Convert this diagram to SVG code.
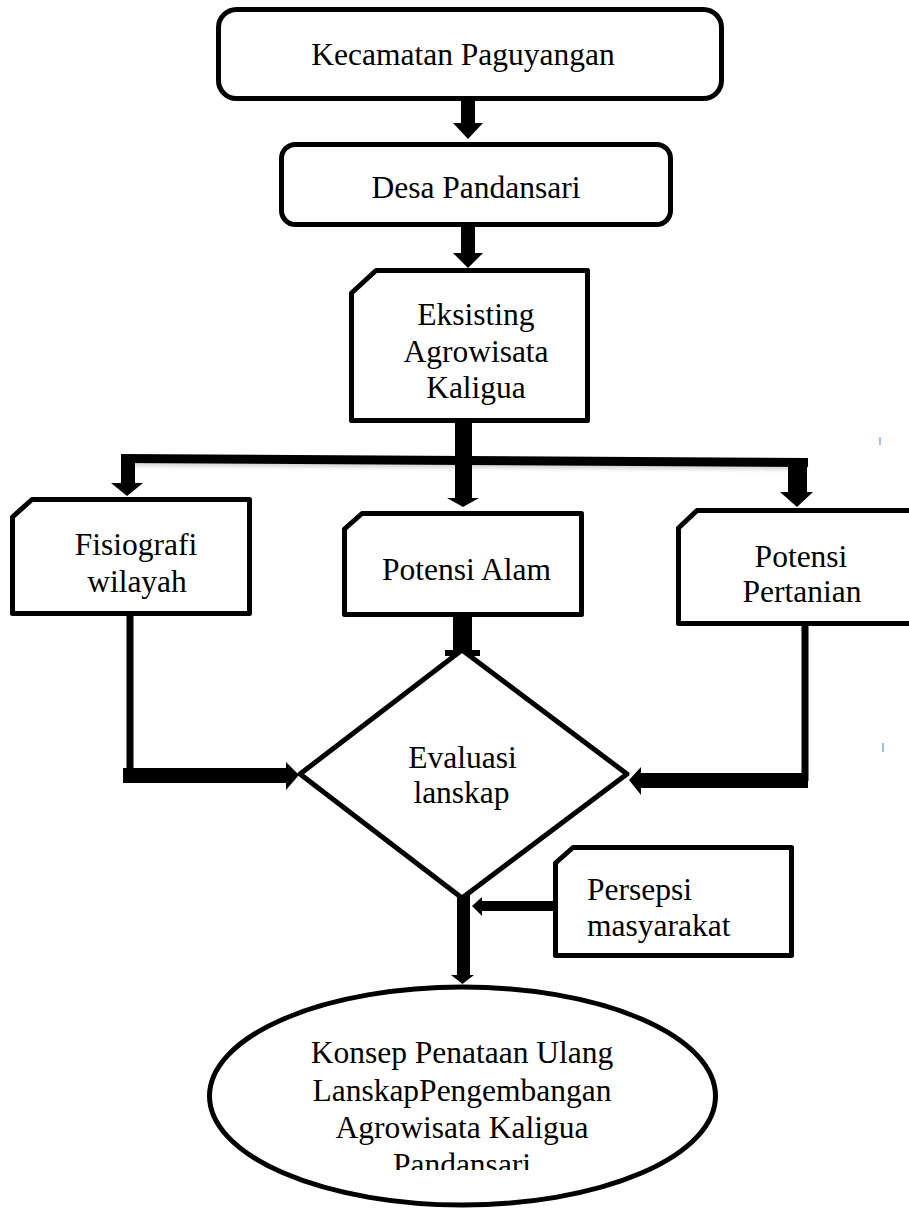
<svg xmlns="http://www.w3.org/2000/svg" width="909" height="1214" viewBox="0 0 909 1214">
  <defs>
    <style>
      .box { fill: #ffffff; stroke: #000000; stroke-width: 5; stroke-linejoin: round; }
      .t { font-family: "Liberation Serif", "Times New Roman", serif; font-size: 31.5px; fill: #000000; }
      .c { text-anchor: middle; }
      .blk { fill: #000000; stroke: none; }
      .thin { stroke: #000000; stroke-width: 7; fill: none; }
      .tick { stroke: #7fa6dc; stroke-width: 1.5; }
    </style>
    <filter id="blur" x="-5%" y="-200%" width="110%" height="500%">
      <feGaussianBlur stdDeviation="2"/>
    </filter>
    <clipPath id="ellClip">
      <rect x="0" y="0" width="909" height="1170"/>
    </clipPath>
  </defs>
  <rect x="0" y="0" width="909" height="1214" fill="#ffffff"/>

  <g id="connectors">
    <!-- Kecamatan -> Desa -->
    <rect class="blk" x="461" y="100" width="14" height="24"/>
    <polygon class="blk" points="453,123 483,123 468,139"/>
    <!-- Desa -> Eksisting -->
    <rect class="blk" x="461" y="225" width="14" height="29"/>
    <polygon class="blk" points="453,253 483,253 468,268"/>
    <!-- Eksisting -> branch -->
    <line x1="125" y1="463" x2="806" y2="467" stroke="#9a9a9a" stroke-width="5" opacity="0.5" filter="url(#blur)"/>
    <polygon class="blk" points="121,454 808,458 808,467 121,463"/>
    <rect class="blk" x="455" y="421" width="17" height="78"/>
    <polygon class="blk" points="447,498 479,498 463,507"/>
    <!-- branch -> Fisiografi -->
    <rect class="blk" x="121" y="456" width="14" height="28"/>
    <polygon class="blk" points="111,483 143,483 127,496"/>
    <!-- branch -> Potensi Pertanian -->
    <rect class="blk" x="788" y="460" width="19" height="33"/>
    <polygon class="blk" points="780,492 813,492 797,507"/>
    <!-- Fisiografi -> Evaluasi -->
    <line class="thin" x1="130" y1="615" x2="130" y2="776"/>
    <rect class="blk" x="123" y="768" width="166" height="15"/>
    <polygon class="blk" points="286,762 299,775 286,790"/>
    <!-- Potensi Pertanian -> Evaluasi -->
    <line class="thin" x1="805" y1="622" x2="805" y2="781"/>
    <rect class="blk" x="640" y="773" width="168" height="15"/>
    <polygon class="blk" points="641,767 629,780 641,795"/>
    <!-- Potensi Alam -> Evaluasi -->
    <rect class="blk" x="453" y="615" width="19" height="38"/>
    <rect class="blk" x="445" y="650" width="35" height="6"/>
    <!-- Persepsi -> junction -->
    <rect class="blk" x="481" y="901" width="74" height="10"/>
    <polygon class="blk" points="482,897 482,916 472,906"/>
    <!-- Evaluasi -> Konsep -->
    <rect class="blk" x="457" y="890" width="13" height="86"/>
    <polygon class="blk" points="451,975 474,975 462.5,984"/>
  </g>

  <g id="kecamatan">
    <rect class="box" x="218.5" y="9.5" width="503" height="89" rx="18" ry="18"/>
    <text class="t c" x="463" y="65">Kecamatan Paguyangan</text>
  </g>

  <g id="desa">
    <rect class="box" x="281.5" y="144.5" width="389" height="80" rx="14" ry="14"/>
    <text class="t c" x="476" y="198">Desa Pandansari</text>
  </g>

  <g id="eksisting">
    <path class="box" d="M351.5,293 L376,270.5 L587.5,270.5 L587.5,420.5 L351.5,420.5 Z"/>
    <text class="t c" x="476" y="325">Eksisting</text>
    <text class="t c" x="476" y="362">Agrowisata</text>
    <text class="t c" x="476" y="398">Kaligua</text>
  </g>

  <g id="fisiografi">
    <path class="box" d="M12.5,517 L32,499.5 L249.5,499.5 L249.5,613.5 L12.5,613.5 Z"/>
    <text class="t c" x="136" y="555">Fisiografi</text>
    <text class="t c" x="137" y="592">wilayah</text>
  </g>

  <g id="potensi-alam">
    <path class="box" d="M344.5,529 L362,513.5 L581.5,513.5 L581.5,614.5 L344.5,614.5 Z"/>
    <text class="t c" x="466.5" y="580">Potensi Alam</text>
  </g>

  <g id="potensi-pertanian">
    <path class="box" d="M678.5,528 L697,510.5 L915,510.5 L915,623.5 L678.5,623.5 Z"/>
    <text class="t c" x="801" y="567">Potensi</text>
    <text class="t c" x="802" y="602">Pertanian</text>
  </g>

  <g id="evaluasi">
    <polygon class="box" points="462,650 627,774 462,898 300,774" stroke-linejoin="miter"/>
    <text class="t c" x="462.5" y="768">Evaluasi</text>
    <text class="t c" x="461.5" y="803">lanskap</text>
  </g>

  <g id="persepsi">
    <path class="box" d="M555.5,863 L573,847.5 L791.5,847.5 L791.5,955.5 L555.5,955.5 Z"/>
    <text class="t" x="587" y="900">Persepsi</text>
    <text class="t" x="587" y="936">masyarakat</text>
  </g>

  <g id="konsep">
    <ellipse class="box" cx="462.5" cy="1096" rx="253" ry="109"/>
    <g clip-path="url(#ellClip)">
      <text class="t c" x="462" y="1063">Konsep Penataan Ulang</text>
      <text class="t c" x="462" y="1101">LanskapPengembangan</text>
      <text class="t c" x="462" y="1138">Agrowisata Kaligua</text>
      <text class="t c" x="462" y="1175">Pandansari</text>
    </g>
  </g>

  <g id="marks">
    <line class="tick" x1="880" y1="437" x2="880" y2="445"/>
    <line class="tick" x1="883" y1="743" x2="883" y2="752"/>
  </g>
</svg>
